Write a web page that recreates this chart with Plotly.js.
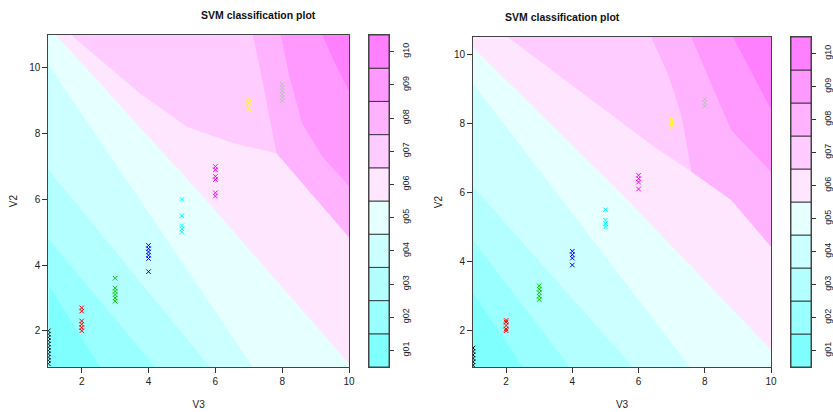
<!DOCTYPE html>
<html><head><meta charset="utf-8">
<script src="https://cdn.plot.ly/plotly-3.0.1.min.js"></script>
<style>html,body{margin:0;padding:0;background:#fff}#chart{width:833px;height:412px}</style>
</head><body><div id="chart"></div>
<script>
// ---------- data ----------
const classLabels = ['g01','g02','g03','g04','g05','g06','g07','g08','g09','g10'];
const classColors = ['#80FFFF','#99FFFF','#B3FFFF','#CCFFFF','#E6FFFF','#FFE6FF','#FFCCFF','#FFB3FF','#FF99FF','#FF80FF'];
const pointColors = ['#000000','#FF0000','#00CD00','#0000FF','#00FFFF','#FF00FF','#FFFF00','#BEBEBE'];

// V3 value of each observed class column
const pointV3 = [1,2,3,4,5,6,7,8];

// left panel: V2 values of the points for each class
const leftV2 = [
  [1.0,1.1,1.2,1.3,1.4,1.5,1.6,1.7,1.8,1.9,2.0],
  [2.0,2.1,2.2,2.3,2.6,2.7],
  [2.9,3.0,3.1,3.2,3.3,3.6],
  [3.8,4.2,4.3,4.4,4.5,4.6],
  [5.0,5.1,5.2,5.5,6.0],
  [6.1,6.2,6.6,6.7,6.9,7.0],
  [8.75,8.85,8.95,9.05],
  [9.0,9.1,9.2,9.3,9.4,9.5]
];
// right panel
const rightV2 = [
  [1.0,1.1,1.2,1.3,1.4,1.5],
  [2.0,2.05,2.15,2.25,2.3],
  [2.9,3.0,3.1,3.2,3.3],
  [3.9,4.1,4.2,4.3],
  [5.0,5.1,5.2,5.5],
  [6.1,6.3,6.4,6.5],
  [7.9,8.0,8.1],
  [8.5,8.6,8.7]
];

// decision boundaries: lower edge of the region of class k+1 (V3, V2)
const leftBoundV3 = [
  [1, 2.55],
  [1, 4.2],
  [1, 1.73, 3.5, 5.84],
  [1, 3.72, 7.12],
  [1.23, 5.72, 10],
  [1.68, 3.74, 5.14, 6.54, 7.83, 10],
  [7.12, 7.35, 7.6, 7.83, 10],
  [7.96, 8.2, 8.6, 9.2, 10],
  [9.2, 9.6, 10]
];
const leftBoundV2 = [
  [3.4, 0.9],
  [4.8, 0.9],
  [6.9, 6.0, 3.8, 0.9],
  [10.1, 6.02, 0.9],
  [11, 5.98, 1.0],
  [11, 9.23, 8.21, 7.71, 7.4, 4.85],
  [11, 9.9, 8.6, 7.4, 4.85],
  [11, 9.8, 8.3, 7.3, 6.4],
  [11, 10.1, 9.3]
];
const rightBoundV3 = [
  [1, 2.51],
  [1, 3.92],
  [1, 5.83],
  [1, 7.55],
  [1, 5.67, 10],
  [2.05, 4, 6.5, 7.6, 8.8, 10],
  [6.38, 6.9, 7.3, 7.6, 8.8, 10],
  [7.59, 8.3, 8.8, 10],
  [8.85, 9.4, 10]
];
const rightBoundV2 = [
  [3.09, 0.95],
  [4.62, 0.95],
  [6.17, 0.95],
  [9.15, 0.95],
  [10.2, 5.78, 1.45],
  [10.5, 9.1, 7.3, 6.6, 5.78, 4.43],
  [10.5, 9.4, 8.2, 6.6, 5.78, 4.43],
  [10.5, 8.9, 7.8, 6.6],
  [10.5, 9.5, 8.4]
];

const leftRangeV2 = [0.9, 11];
const rightRangeV2 = [0.95, 10.5];
const rangeV3 = [1, 10];
const levelBase = classLabels.map((_, i) => i + 1);

// ---------- helpers ----------
function regionAbove(bx, by) {
  const n = bx.length, E = 30, F = 100;
  const dx0 = bx[0] - bx[1], dy0 = by[0] - by[1], l0 = Math.hypot(dx0, dy0);
  const dx1 = bx[n-1] - bx[n-2], dy1 = by[n-1] - by[n-2], l1 = Math.hypot(dx1, dy1);
  const sx = bx[0] + dx0 / l0 * E, sy = by[0] + dy0 / l0 * E;
  const ex = bx[n-1] + dx1 / l1 * E, ey = by[n-1] + dy1 / l1 * E;
  return {x: [sx, ...bx, ex, F, F, sx], y: [sy, ...by, ey, ey, F, F]};
}

const traces = [];
function panel(xa, ya, boundX, boundY, v2, xa2, ya2) {
  const bg = regionAbove([-50, 50], [200, -200]);
  traces.push({
    type: 'scatter', mode: 'none', fill: 'toself', fillcolor: classColors[0],
    x: bg.x, y: bg.y, xaxis: xa, yaxis: ya, hoverinfo: 'skip', showlegend: false
  });
  boundX.forEach((bx, k) => {
    const poly = regionAbove(bx, boundY[k]);
    traces.push({
      type: 'scatter', mode: 'none', fill: 'toself', fillcolor: classColors[k + 1],
      x: poly.x, y: poly.y, xaxis: xa, yaxis: ya, hoverinfo: 'skip', showlegend: false
    });
  });
  v2.forEach((vals, c) => {
    traces.push({
      type: 'scatter', mode: 'markers', x: vals.map(() => pointV3[c]), y: vals,
      xaxis: xa, yaxis: ya, cliponaxis: true, showlegend: false,
      marker: {symbol: 'x-thin-open', size: 4.5, color: pointColors[c],
               line: {width: 1, color: pointColors[c]}},
      name: classLabels[c]
    });
  });
  traces.push({
    type: 'bar', x: classLabels.map(() => 0), y: classLabels.map(() => 1), base: levelBase,
    width: 1, marker: {color: classColors, line: {color: '#222', width: 0.8}},
    xaxis: xa2, yaxis: ya2, hoverinfo: 'skip', showlegend: false
  });
}
panel('x', 'y', leftBoundV3, leftBoundV2, leftV2, 'x2', 'y2');
panel('x3', 'y3', rightBoundV3, rightBoundV2, rightV2, 'x4', 'y4');

// ---------- layout ----------
const W = 833, H = 412;
const font = {family: 'Liberation Sans, Arial, sans-serif', size: 10, color: '#222'};
const dx = (a, b) => [a / W, b / W];
const dy = (top, bot) => [1 - bot / H, 1 - top / H];
function mainX(dom, anchor) {
  return {domain: dom, anchor: anchor, range: rangeV3, tickvals: [2,4,6,8,10],
    ticks: 'outside', ticklen: 5, tickcolor: '#333', showline: true, mirror: true,
    linecolor: '#444', linewidth: 1, showgrid: false, zeroline: false, tickfont: font,
    title: {text: 'V3', font: font, standoff: 14}};
}
function mainY(dom, anchor, range) {
  return {domain: dom, anchor: anchor, range: range, tickvals: [2,4,6,8,10], tickangle: 0,
    ticks: 'outside', ticklen: 5, tickcolor: '#333', showline: true, mirror: true,
    linecolor: '#444', linewidth: 1, showgrid: false, zeroline: false, tickfont: font,
    title: {text: 'V2', font: font, standoff: 9}};
}
function keyX(dom, anchor) {
  return {domain: dom, anchor: anchor, range: [-0.5, 0.5], showticklabels: false, ticks: '',
    showline: true, mirror: true, linecolor: '#444', showgrid: false, zeroline: false, fixedrange: true};
}
function keyY(dom, anchor) {
  return {domain: dom, anchor: anchor, range: [1, 11], side: 'right',
    tickvals: levelBase.map(v => v + 0.5), ticktext: classLabels, tickangle: -90,
    ticks: 'outside', ticklen: 4, tickcolor: '#333', showline: true, mirror: true,
    linecolor: '#444', showgrid: false, zeroline: false,
    tickfont: {family: font.family, size: 9, color: '#222'}, ticklabelstandoff: 4};
}
const layout = {
  width: W, height: H, margin: {l: 0, r: 0, t: 0, b: 0},
  paper_bgcolor: '#fff', plot_bgcolor: '#fff', showlegend: false, bargap: 0,
  xaxis: mainX(dx(48.3, 349), 'y'),
  yaxis: mainY(dy(35, 367), 'x', leftRangeV2),
  xaxis2: keyX(dx(369, 389), 'y2'),
  yaxis2: keyY(dy(35, 367), 'x2'),
  xaxis3: mainX(dx(473, 771), 'y3'),
  yaxis3: mainY(dy(37, 367), 'x3', rightRangeV2),
  xaxis4: keyX(dx(791, 811), 'y4'),
  yaxis4: keyY(dy(37, 367), 'x4'),
  annotations: [
    {text: '<b>SVM classification plot</b>', xref: 'paper', yref: 'paper',
     x: (48.3 + 349) / 2 / W, y: 1 - 15 / H, showarrow: false, yanchor: 'middle',
     font: {family: font.family, size: 10.5, color: '#111'}},
    {text: '<b>SVM classification plot</b>', xref: 'paper', yref: 'paper',
     x: (473 + 771) / 2 / W, y: 1 - 17 / H, showarrow: false, yanchor: 'middle',
     font: {family: font.family, size: 10.5, color: '#111'}}
  ]
};
Plotly.newPlot('chart', traces, layout, {staticPlot: true, displayModeBar: false});
</script></body></html>
